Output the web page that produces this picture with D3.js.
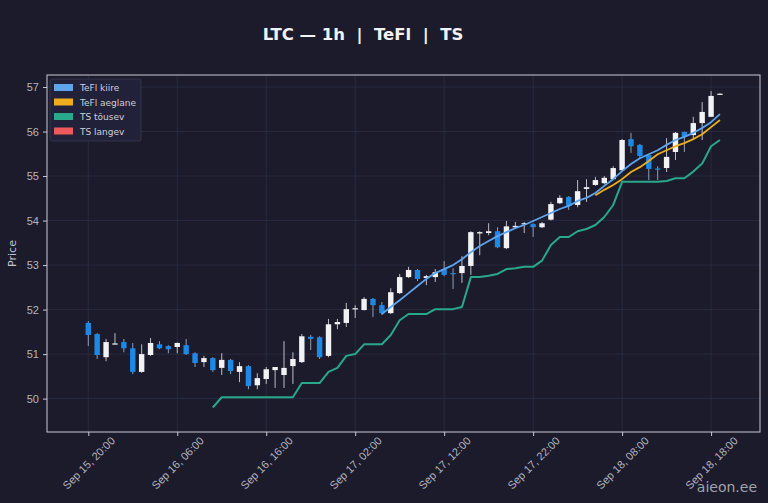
<!DOCTYPE html>
<html>
<head>
<meta charset="utf-8">
<script src="https://cdn.jsdelivr.net/npm/d3@7"></script>
<style>
  html, body { margin: 0; padding: 0; background: #1b1b2c; }
  svg { display: block; font-family: "DejaVu Sans", sans-serif; }
</style>
</head>
<body>
<svg id="chart" width="768" height="503"></svg>
<script>
// hourly candles, first one at Sep 15 20:00
const startTime = Date.UTC(2025, 8, 15, 20);

const openP = [51.70,51.45,50.93,51.23,51.27,51.13,50.60,50.98,51.22,51.18,51.16,51.20,51.02,50.82,50.91,50.69,50.87,50.60,50.73,50.30,
  50.44,50.64,50.53,50.73,50.82,51.39,51.38,50.96,51.67,51.70,52.01,51.99,52.24,52.10,51.92,52.37,52.73,52.89,52.71,52.73,
  52.91,52.82,52.82,52.98,53.71,53.72,53.76,53.38,53.85,53.92,53.92,53.85,54.02,54.39,54.53,54.35,54.71,54.80,54.84,54.93,
  55.13,55.83,55.70,55.47,55.17,55.18,55.54,55.99,55.92,56.19,56.33,56.84];
const highP = [51.74,51.47,51.34,51.47,51.34,51.25,51.22,51.36,51.29,51.20,51.26,51.34,51.04,50.96,50.93,51.02,50.89,50.82,50.75,50.57,
  50.71,50.71,51.29,51.04,51.45,51.43,51.40,51.79,51.79,52.15,52.10,52.28,52.26,52.17,52.48,52.80,52.96,52.91,52.78,52.91,
  53.09,52.93,53.20,53.76,53.76,53.94,53.85,53.99,53.97,53.97,53.94,53.97,54.42,54.57,54.55,54.91,54.93,54.98,55.00,55.22,
  55.83,55.97,55.72,55.49,55.22,55.85,55.99,56.00,56.33,56.66,56.91,56.86];
const lowP = [51.18,50.89,50.84,51.22,51.04,50.55,50.58,50.96,51.11,51.02,51.02,50.98,50.71,50.71,50.60,50.53,50.55,50.37,50.21,50.21,
  50.33,50.24,50.24,50.33,50.80,51.09,50.89,50.93,51.56,51.61,51.81,51.98,51.83,51.88,51.90,52.35,52.71,52.64,52.55,52.62,
  52.75,52.46,52.60,52.78,53.22,53.67,53.38,53.36,53.83,53.72,53.63,53.83,54.00,54.37,54.24,54.30,54.42,54.78,54.82,54.91,
  55.11,55.52,55.40,54.91,54.91,55.09,55.36,55.54,55.81,55.81,56.33,56.83];
const closeP = [51.43,50.98,51.27,51.24,51.13,50.60,51.00,51.25,51.13,51.11,51.25,51.00,50.80,50.91,50.64,50.87,50.62,50.73,50.28,50.46,
  50.66,50.71,50.69,50.89,51.40,51.34,50.93,51.67,51.72,52.01,52.03,52.24,52.10,51.92,52.39,52.73,52.89,52.69,52.75,52.84,
  52.78,52.80,52.98,53.74,53.74,53.76,53.40,53.87,53.88,53.94,53.85,53.94,54.37,54.51,54.33,54.66,54.75,54.91,54.96,55.18,
  55.81,55.67,55.45,55.16,55.15,55.43,55.97,55.88,56.19,56.44,56.80,56.85];

// TeFl fast / slow lines and TS (rising) support, null where not drawn
const N = null;
const tefFast = [N,N,N,N,N,N,N,N,N,N,N,N,N,N,N,N,N,N,N,N,N,N,N,N,N,N,N,N,N,N,N,N,N,
  51.90,52.06,52.21,52.37,52.53,52.69,52.82,52.91,53.00,53.13,53.29,53.43,53.54,53.65,53.74,53.83,53.90,53.99,
  54.08,54.17,54.26,54.33,54.44,54.51,54.62,54.78,54.93,55.11,55.27,55.40,55.49,55.58,55.70,55.81,55.88,55.97,
  56.08,56.21,56.39];
const tefSlow = [N,N,N,N,N,N,N,N,N,N,N,N,N,N,N,N,N,N,N,N,N,N,N,N,N,N,N,N,N,N,N,N,N,N,N,N,N,N,N,N,
  N,N,N,N,N,N,N,N,N,N,N,N,N,N,N,N,N,
  54.57,54.69,54.80,54.93,55.09,55.20,55.34,55.49,55.58,55.67,55.74,55.83,55.94,56.10,56.26];
const tsUp = [N,N,N,N,N,N,N,N,N,N,N,N,N,N,
  49.80,50.03,50.03,50.03,50.03,50.03,50.03,50.03,50.03,50.03,50.35,50.35,50.35,50.60,50.69,50.96,51.00,
  51.22,51.22,51.22,51.43,51.76,51.90,51.90,51.90,52.01,52.01,52.01,52.06,52.73,52.73,52.76,52.80,52.91,
  52.93,52.96,52.96,53.10,53.45,53.63,53.63,53.76,53.81,53.90,54.08,54.35,54.87,54.87,54.87,54.87,54.87,
  54.89,54.95,54.95,55.10,55.28,55.67,55.81];

const xTickLabels = ["Sep 15, 20:00","Sep 16, 06:00","Sep 16, 16:00","Sep 17, 02:00",
  "Sep 17, 12:00","Sep 17, 22:00","Sep 18, 08:00","Sep 18, 18:00"];
const yTicks = [50, 51, 52, 53, 54, 55, 56, 57];
const legendNames = ["TeFl kiire", "TeFl aeglane", "TS tõusev", "TS langev"];
const legendColors = ["#5ea5ee", "#eeae1c", "#2aa88a", "#ee5a5a"];

const HOUR = 3600 * 1000;
const times = openP.map((d, i) => new Date(startTime + i * HOUR));

const svg = d3.select('#chart');
const W = 768, H = 503;
const L = 47, R = 760, T = 75, B = 432;

svg.append('rect').attr('width', W).attr('height', H).attr('fill', '#1b1b2c');

let x = d3.scaleUtc()
  .domain([new Date(startTime - 4.64 * HOUR), new Date(startTime + 75.5 * HOUR)])
  .range([L, R]);
let y = d3.scaleLinear().domain([49.25, 57.27]).range([B, T]);

let tickDates = xTickLabels.map((d, i) => new Date(startTime + i * 10 * HOUR));

// grid
let grid = svg.append('g').attr('stroke', '#2b2e44').attr('stroke-width', 0.8);
grid.selectAll('.gx').data(tickDates).enter().append('line')
  .attr('x1', d => x(d)).attr('x2', d => x(d)).attr('y1', T).attr('y2', B);
grid.selectAll('.gy').data(yTicks).enter().append('line')
  .attr('x1', L).attr('x2', R).attr('y1', d => y(d)).attr('y2', d => y(d));

// candles
let bodyW = 5.4;
let candles = svg.append('g');
let idx = d3.range(openP.length);
candles.selectAll('.wick').data(idx).enter().append('line')
  .attr('x1', i => x(times[i])).attr('x2', i => x(times[i]))
  .attr('y1', i => y(highP[i])).attr('y2', i => y(lowP[i]))
  .attr('stroke', i => closeP[i] >= openP[i] ? '#bdbdc6' : '#8f9fb8')
  .attr('stroke-width', 1);
candles.selectAll('.body').data(idx).enter().append('rect')
  .attr('x', i => x(times[i]) - bodyW / 2)
  .attr('width', bodyW)
  .attr('y', i => y(Math.max(openP[i], closeP[i])))
  .attr('height', i => Math.max(1.2, Math.abs(y(openP[i]) - y(closeP[i]))))
  .attr('fill', i => closeP[i] >= openP[i] ? '#f2f2f4' : '#1e88e5');

// lines
let line = d3.line()
  .defined(d => d[1] !== null)
  .x(d => x(d[0])).y(d => y(d[1]));
function drawLine(vals, color, w) {
  svg.append('path')
    .attr('d', line(vals.map((v, i) => [times[i], v])))
    .attr('fill', 'none').attr('stroke', color).attr('stroke-width', w)
    .attr('stroke-linejoin', 'round');
}
drawLine(tsUp, legendColors[2], 2);
drawLine(tefSlow, legendColors[1], 1.8);
drawLine(tefFast, legendColors[0], 1.8);

// frame
svg.append('rect').attr('x', L).attr('y', T).attr('width', R - L).attr('height', B - T)
  .attr('fill', 'none').attr('stroke', '#c9c9d3').attr('stroke-width', 1);

// axes
let xAxis = d3.axisBottom(x).tickValues(tickDates).tickSize(4)
  .tickFormat((d, i) => xTickLabels[i]);
let gx = svg.append('g').attr('transform', `translate(0,${B})`).call(xAxis);
gx.select('.domain').remove();
gx.selectAll('line').attr('stroke', '#c9c9d3');
gx.selectAll('text')
  .attr('fill', '#b4b4be').attr('font-size', 11)
  .attr('text-anchor', 'middle')
  .attr('y', 0).attr('dy', '0.35em')
  .attr('transform', 'translate(0,31) rotate(-45)');

let yAxis = d3.axisLeft(y).tickValues(yTicks).tickSize(4).tickFormat(d3.format('d'));
let gy = svg.append('g').attr('transform', `translate(${L},0)`).call(yAxis);
gy.select('.domain').remove();
gy.selectAll('line').attr('stroke', '#c9c9d3');
gy.selectAll('text').attr('fill', '#b4b4be').attr('font-size', 11).attr('x', -8);

svg.append('text').attr('transform', `translate(16,${(T + B) / 2}) rotate(-90)`)
  .attr('text-anchor', 'middle').attr('fill', '#c4c4cc').attr('font-size', 11)
  .text('Price');

// title
svg.append('text').attr('x', 363).attr('y', 40).attr('text-anchor', 'middle')
  .attr('fill', '#f2f2f6').attr('font-size', 16.5).attr('font-weight', 'bold')
  .style('white-space', 'pre').attr('xml:space', 'preserve')
  .text('LTC — 1h  |  TeFl  |  TS');

// legend
let lg = svg.append('g').attr('transform', 'translate(50,79)');
lg.append('rect').attr('width', 91).attr('height', 62).attr('rx', 2)
  .attr('fill', '#21213a').attr('stroke', '#3b3b52').attr('stroke-width', 0.8);
legendNames.forEach((n, i) => {
  lg.append('rect').attr('x', 4).attr('y', 5 + i * 14.5).attr('width', 19).attr('height', 7)
    .attr('fill', legendColors[i]);
  lg.append('text').attr('x', 30).attr('y', 12 + i * 14.5)
    .attr('fill', '#d0d0d8').attr('font-size', 9).text(n);
});

// watermark
svg.append('text').attr('x', 757).attr('y', 492).attr('text-anchor', 'end')
  .attr('fill', '#a2a2ac').attr('font-size', 14).text('aieon.ee');
</script>
</body>
</html>
